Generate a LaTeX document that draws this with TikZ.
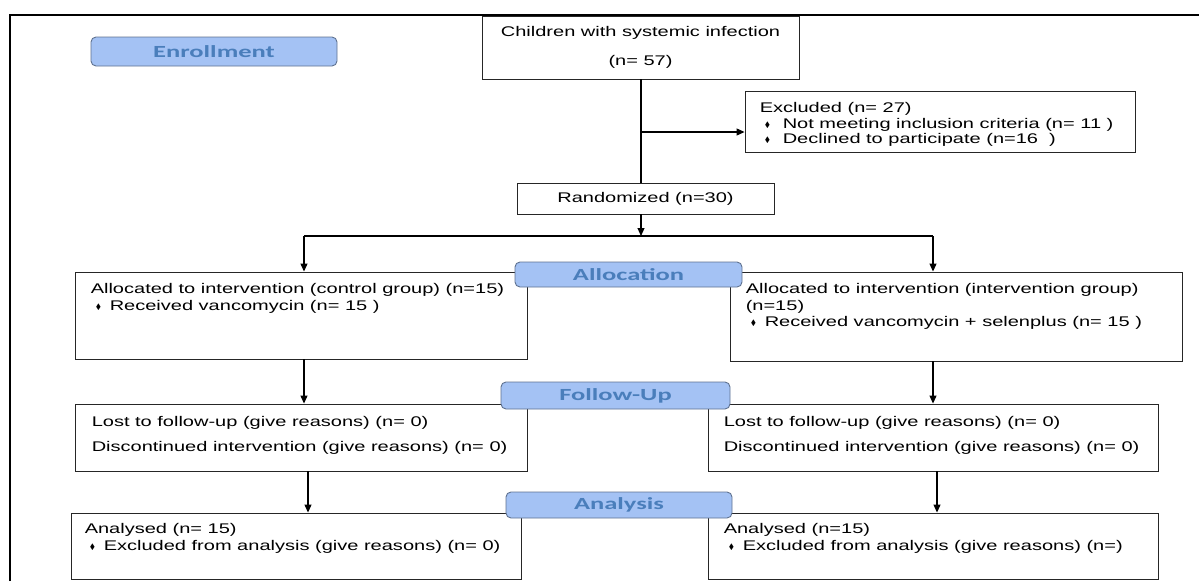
\documentclass[tikz,border=0pt]{standalone}
\usepackage{fontspec}
\usepackage{amssymb}
\usetikzlibrary{arrows.meta, positioning}
\newfontfamily\boxfont{Liberation Sans}[FakeStretch=1.43]
\newfontfamily\labfont{Carlito}[FakeStretch=1.56]
\definecolor{labfill}{HTML}{A4C2F4}
\definecolor{labdraw}{HTML}{5F7290}
\definecolor{labtext}{HTML}{4A7EBB}
\newcommand{\bul}[1]{\hspace*{5pt}\makebox[#1][l]{\raisebox{1pt}{\scalebox{0.8}{$\scriptstyle\blacklozenge$}}}}

\tikzset{
    box/.style={draw=black!85, line width=0.9pt, inner sep=0pt,
        font=\boxfont\fontsize{14pt}{16.5pt}\selectfont},
    boxtext/.style={anchor=north west, inner sep=0pt, align=left,
        font=\boxfont\fontsize{14pt}{16.5pt}\selectfont},
    stage/.style={draw=labdraw, fill=labfill, line width=0.9pt, rounded corners=5pt,
        inner sep=0pt, text=labtext, font=\labfont\bfseries\fontsize{17pt}{19pt}\selectfont},
    arrow/.style={-{Triangle[length=8pt,width=7pt]}, line width=1.1pt},
}

\begin{document}
\begin{tikzpicture}[x=1pt, y=-1pt]
        \useasboundingbox (0,0) rectangle (1199,581);

        % Outer frame
        \draw[line width=2pt] (9.5,581) -- (9.5,15) -- (1199,15);

        % Enrollment
        \node[box, minimum width=317pt, minimum height=63pt, align=center] (child) at (640.5,47.5)
            {Children with systemic infection\\[12.5pt](n= 57)};
        \node[box, minimum width=390pt, minimum height=61pt] (excl) at (940,121.5) {};
        \node[boxtext] (excltext) at ([shift={(15,12)}]excl.north west)
            {Excluded (n= 27)\\[-1pt]
             \bul{18pt}Not meeting inclusion criteria (n= 11 )\\[-1pt]
             \bul{18pt}Declined to participate (n=16~ )};
        \node[box, minimum width=257pt, minimum height=31pt] (rand) at (645.5,198.5) {Randomized (n=30)};

        % Allocation
        \node[box, minimum width=452pt, minimum height=87pt] (alloc1) at (301,315.5) {};
        \node[boxtext] (alloc1text) at ([shift={(16,12)}]alloc1.north west)
            {Allocated to intervention (control group) (n=15)\\
             \bul{14pt}Received vancomycin (n= 15 )};
        \node[box, minimum width=452pt, minimum height=89pt] (alloc2) at (956,316.5) {};
        \node[boxtext] (alloc2text) at ([shift={(16,12)}]alloc2.north west)
            {Allocated to intervention (intervention group)\\
             (n=15)\\
             \bul{14pt}Received vancomycin + selenplus (n= 15 )};

        % Follow-up
        \node[box, minimum width=452pt, minimum height=67pt] (follow1) at (301,437.5) {};
        \node[boxtext] (follow1text) at ([shift={(17,13)}]follow1.north west)
            {Lost to follow-up (give reasons) (n= 0)\\[8.5pt]
             Discontinued intervention (give reasons) (n= 0)};
        \node[box, minimum width=450pt, minimum height=67pt] (follow2) at (933,437.5) {};
        \node[boxtext] (follow2text) at ([shift={(16,13)}]follow2.north west)
            {Lost to follow-up (give reasons) (n= 0)\\[8.5pt]
             Discontinued intervention (give reasons) (n= 0)};

        % Analysis
        \node[box, minimum width=450pt, minimum height=66pt] (anal1) at (296,546) {};
        \node[boxtext] (anal1text) at ([shift={(14,11)}]anal1.north west)
            {Analysed (n= 15)\\
             \bul{14pt}Excluded from analysis (give reasons) (n= 0)};
        \node[box, minimum width=450pt, minimum height=66pt] (anal2) at (933,546) {};
        \node[boxtext] (anal2text) at ([shift={(16,11)}]anal2.north west)
            {Analysed (n=15)\\
             \bul{14pt}Excluded from analysis (give reasons) (n=)};

        % Connectors
        \coordinate (trunk) at (641,132);
        \coordinate (lsplit) at (304,236);
        \coordinate (rsplit) at (933,236);
        \coordinate (lfoot) at (308,471);
        \coordinate (rfoot) at (937,471);
        \draw[line width=1.1pt] (trunk |- child.south) -- (trunk |- rand.north);
        \draw[arrow] (trunk) -- (trunk -| excl.west);
        \draw[arrow] (trunk |- rand.south) -- (trunk |- lsplit);
        \draw[line width=1.1pt] (lsplit) -- (rsplit);
        \draw[arrow] (lsplit) -- (lsplit |- alloc1.north);
        \draw[arrow] (rsplit) -- (rsplit |- alloc2.north);
        \draw[arrow] (lsplit |- alloc1.south) -- (lsplit |- follow1.north);
        \draw[arrow] (rsplit |- alloc2.south) -- (rsplit |- follow2.north);
        \draw[arrow] (lfoot) -- (lfoot |- anal1.north);
        \draw[arrow] (rfoot) -- (rfoot |- anal2.north);

        % Stage labels
        \node[stage, minimum width=246pt, minimum height=29pt] (enroll) at (214,51.5) {Enrollment};
        \node[stage, minimum width=227pt, minimum height=25pt] (allocl) at (628.5,274.5) {Allocation};
        \node[stage, minimum width=229pt, minimum height=27pt] (followl) at (615.5,395.5) {Follow-Up};
        \node[stage, minimum width=226pt, minimum height=26pt] (analysl) at (619,505) {Analysis};
\end{tikzpicture}
\end{document}
